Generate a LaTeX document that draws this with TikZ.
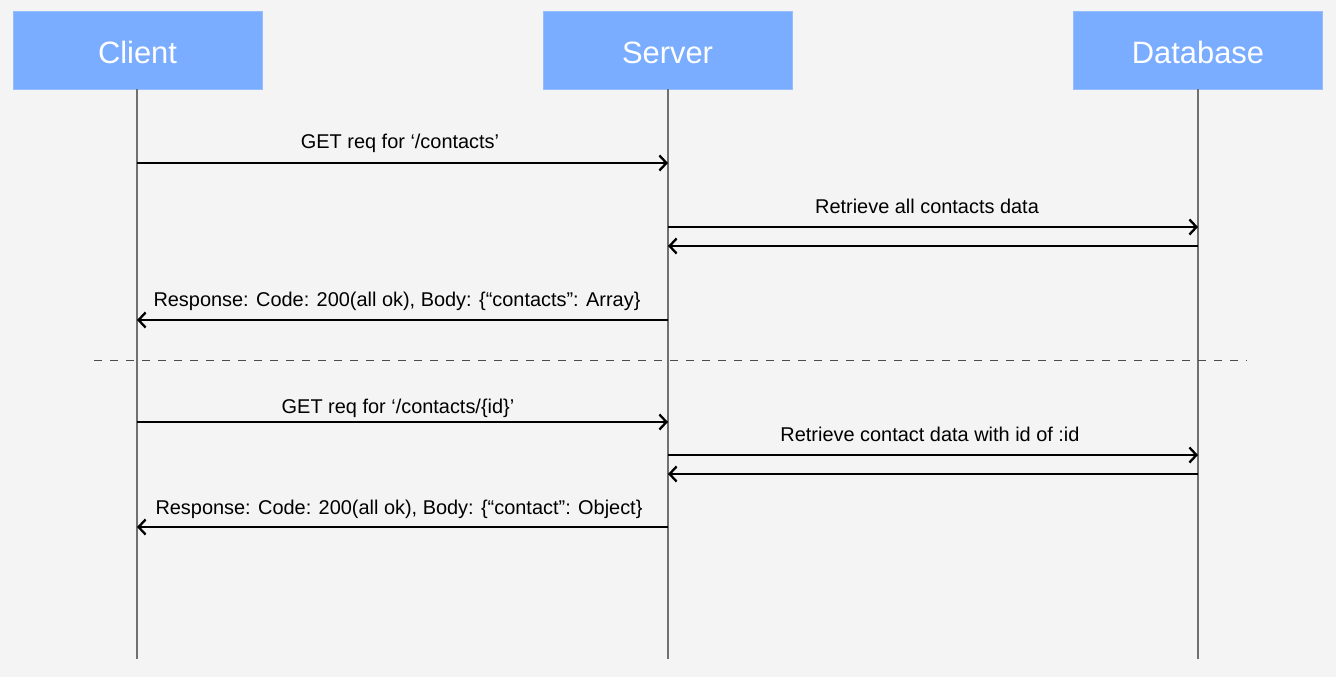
\documentclass[tikz,border=0pt]{standalone}
\usepackage{fontspec}
\setmainfont{Liberation Sans}
\usetikzlibrary{arrows.meta}
\definecolor{bg}{HTML}{F4F4F4}
\definecolor{boxblue}{HTML}{7AADFF}
\definecolor{lifegray}{HTML}{707070}
\begin{document}
\begin{tikzpicture}[x=1bp,y=-1bp,
  actor/.style={fill=boxblue,draw=boxblue!80!white,line width=0.8bp,minimum width=249bp,minimum height=78bp,inner sep=0pt,text height=27bp,text depth=0pt,text=white,font=\fontsize{31}{36}\selectfont},
  life/.style={draw=lifegray,line width=1.3bp},
  msg/.style={draw=black,line width=2.3bp,-{Straight Barb[length=7bp,width=15bp,line width=2.3bp]}},
  lbl/.style={font=\fontsize{20}{24}\selectfont,text=black,inner sep=0pt,anchor=base},
  sep/.style={draw=black!70,line width=1bp,dash pattern=on 8bp off 8bp}]
\fill[bg] (0,0) rectangle (1336,677);
\useasboundingbox (0,0) rectangle (1336,677);
% actors
\node[actor] (client) at (137.5,50) {Client};
\node[actor] (server) at (667.5,50) {Server};
\node[actor] (db) at (1198,50) {Database};
% lifeline ends
\coordinate (clientEnd) at (137,659);
\coordinate (serverEnd) at (668,659);
\coordinate (dbEnd) at (1198,659);
\draw[life] (client.south -| clientEnd) -- (clientEnd);
\draw[life] (server.south -| serverEnd) -- (serverEnd);
\draw[life] (db.south -| dbEnd) -- (dbEnd);
% message endpoints
\foreach \y/\n in {163/1,227/2,246/3,320/4,422/5,455/6,474/7,527/8}{
  \coordinate (c\n) at (137,\y);
  \coordinate (s\n) at (668,\y);
  \coordinate (d\n) at (1198,\y);
}
\draw[msg] (c1) -- (s1);
\node[lbl] (l1) at (400,148) {GET req for ‘/contacts’};
\draw[msg] (s2) -- (d2);
\node[lbl] (l2) at (927,213) {Retrieve all contacts data};
\draw[msg] (d3) -- (s3);
\draw[msg] (s4) -- (c4);
\node[lbl] (l4) at (397,306) {Response: Code: 200(all ok), Body: \{“contacts”: Array\}};
% separator
\coordinate (sepL) at (94,360);
\coordinate (sepR) at (1247,360);
\draw[sep] (sepL) -- (sepR);
\draw[msg] (c5) -- (s5);
\node[lbl] (l5) at (398,413) {GET req for ‘/contacts/\{id\}’};
\draw[msg] (s6) -- (d6);
\node[lbl] (l6) at (930,441) {Retrieve contact data with id of :id};
\draw[msg] (d7) -- (s7);
\draw[msg] (s8) -- (c8);
\node[lbl] (l8) at (399,514) {Response: Code: 200(all ok), Body: \{“contact”: Object\}};
\end{tikzpicture}
\end{document}
